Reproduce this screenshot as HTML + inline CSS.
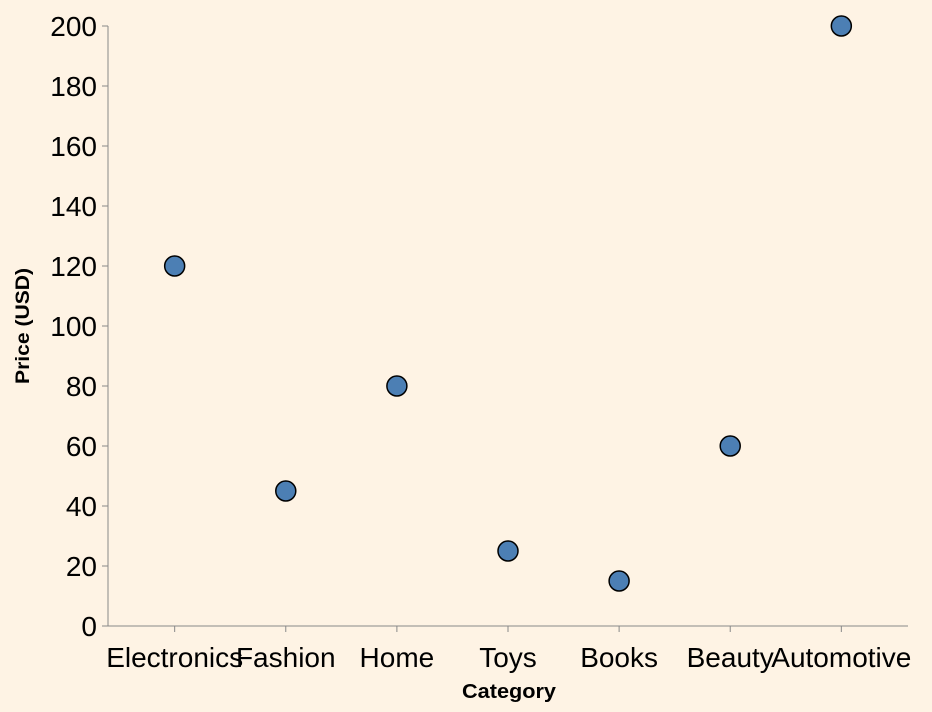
<!DOCTYPE html>
<html><head><meta charset="utf-8"><style>
html,body{margin:0;padding:0;background:#fef3e4;}
svg{display:block;font-family:"Liberation Sans",Arial,sans-serif;}
</style></head><body>
<svg id="chart" width="932" height="712">
<rect width="932" height="712" fill="#fef3e4"/>
<g id="yaxis"></g>
<g id="xaxis"></g>
<g id="points"></g>
<text x="509" y="698" text-anchor="middle" font-size="20" font-weight="bold" fill="#000" textLength="94" lengthAdjust="spacingAndGlyphs">Category</text>
<text transform="translate(29,326) rotate(-90)" text-anchor="middle" font-size="19" font-weight="bold" fill="#000" textLength="116" lengthAdjust="spacingAndGlyphs">Price (USD)</text>
</svg>
<script>
const categories=["Electronics","Fashion","Home","Toys","Books","Beauty","Automotive"];
const prices=[120,45,80,25,15,60,200];
const yTicks=[0,20,40,60,80,100,120,140,160,180,200];
const NS="http://www.w3.org/2000/svg";
const x0=108,x1=908,yBase=626,yTop=26,yMax=200;
const step=(x1-x0)/(categories.length-1+2*0.6);
function xs(i){return x0+step*0.6+i*step;}
function ys(v){return yBase-(v/yMax)*(yBase-yTop);}
function mk(t,a,p){const e=document.createElementNS(NS,t);for(const k in a)e.setAttribute(k,a[k]);p.appendChild(e);return e;}
const ya=document.getElementById('yaxis'),xa=document.getElementById('xaxis'),pg=document.getElementById('points');
let l=mk('line',{x1:x0,x2:x0,y1:yTop,y2:yBase,stroke:'#888'},ya);


yTicks.forEach(v=>{
 const t=mk('line',{x1:x0-6,x2:x0,y1:ys(v),y2:ys(v),stroke:'#888'},ya);
 
 
 const tx=mk('text',{x:x0-11,y:ys(v)+10,'text-anchor':'end','font-size':28,fill:'#000'},ya);
 tx.textContent=v;
 
 
});
l=mk('line',{x1:x0,x2:x1,y1:yBase,y2:yBase,stroke:'#888'},xa);


categories.forEach((c,i)=>{
 const t=mk('line',{x1:xs(i),x2:xs(i),y1:yBase,y2:yBase+6,stroke:'#888'},xa);
 
 
 const tx=mk('text',{x:xs(i),y:667,'text-anchor':'middle','font-size':28,fill:'#000'},xa);
 tx.textContent=c;
 
 
 const p=mk('circle',{cx:xs(i),cy:ys(prices[i]),r:10,fill:'#4c7fb4',stroke:'#000','stroke-width':1.5},pg);
 
 
});
</script>
</body></html>
